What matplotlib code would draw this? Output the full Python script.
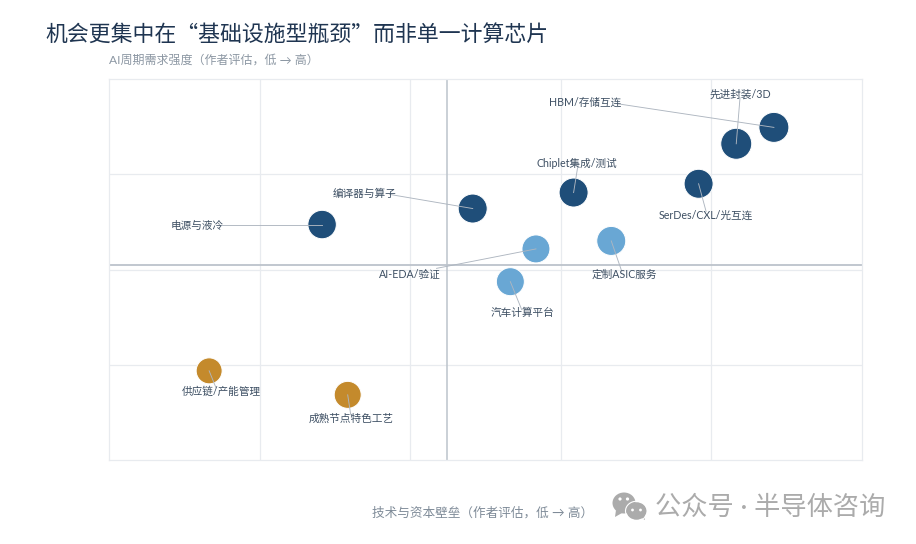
import matplotlib
matplotlib.use("Agg")
import matplotlib.pyplot as plt
from matplotlib.patches import Ellipse, Polygon

plt.rcParams['font.family'] = ['Lato', 'Noto Sans CJK SC', 'DejaVu Sans']

labels = ['电源与液冷', '编译器与算子', 'Chiplet集成/测试', 'SerDes/CXL/光互连', '先进封装/3D',
          'HBM/存储互连', 'AI-EDA/验证', '定制ASIC服务', '汽车计算平台', '供应链/产能管理', '成熟节点特色工艺']
x_vals = [28.3, 48.3, 61.7, 78.3, 83.3, 88.3, 56.7, 66.7, 53.3, 13.3, 31.7]
y_vals = [61.8, 66.0, 70.2, 72.5, 83.0, 87.3, 55.4, 57.5, 46.8, 23.4, 17.1]
sizes = [420, 436, 436, 436, 498, 466, 406, 436, 406, 350, 378]
groups = ['dark'] * 6 + ['light'] * 3 + ['gold'] * 2
label_x = [11.7, 33.9, 62.1, 79.2, 83.8, 63.2, 39.9, 68.4, 54.9, 14.9, 32.2]
label_y = [61.5, 70.0, 77.9, 64.2, 96.0, 94.0, 48.7, 48.7, 38.8, 18.0, 11.0]
leader_x = [14.95, 37.3, 62.3, 79.3, 83.8, 67.2, 43.5, 68.1, 54.8, 14.2, 32.1]
leader_y = [61.8, 69.7, 77.6, 65.2, 95.1, 93.6, 50.3, 49.5, 39.5, 19.0, 11.9]
palette = {'dark': '#1F4E79', 'light': '#69A7D4', 'gold': '#C48A2C'}
x_ticks = [20, 40, 60, 80]
y_ticks = [25, 50, 75]
x_mid = 44.85
y_mid = 51.2

W, H = 916, 544
fig = plt.figure(figsize=(W / 100, H / 100), dpi=100, facecolor='white')
ax = fig.add_axes([109 / W, 1 - 460 / H, 753 / W, 381 / H])
ax.set_xlim(0, 100)
ax.set_ylim(0, 100)
ax.set_xticks(x_ticks)
ax.set_yticks(y_ticks)
ax.tick_params(length=0, labelbottom=False, labelleft=False)
ax.grid(True, color='#E8EBEF', lw=0.9)
ax.set_axisbelow(True)
for s in ax.spines.values():
    s.set_color('#E8EBEF')
    s.set_linewidth(0.9)
ax.axvline(x_mid, color='#BCC3CB', lw=1.1, zorder=1.5)
ax.axhline(y_mid, color='#BCC3CB', lw=1.3, zorder=1.5)

ax.scatter(x_vals, y_vals, s=sizes, c=[palette[g] for g in groups],
           edgecolors='white', linewidths=0.7, zorder=3)
for i, name in enumerate(labels):
    ax.plot([x_vals[i], leader_x[i]], [y_vals[i], leader_y[i]], color='#AEB6C0', lw=0.65, zorder=4)
    ax.text(label_x[i], label_y[i], name, fontsize=7.65, color='#3D4F63',
            ha='center', va='center', zorder=5)

cjk = ['Noto Sans CJK SC', 'DejaVu Sans']
fig.text(45 / W, 1 - 35 / H, '机会更集中在“基础设施型瓶颈”而非单一计算芯片', fontsize=15.75,
         color='#1F3551', ha='left', va='center', fontweight='medium', family=cjk)
fig.text(109 / W, 1 - 60 / H, 'AI周期需求强度（作者评估，低 → 高）', fontsize=8.65,
         color='#8C97A3', ha='left', va='center')
fig.text(593 / W, 1 - 512 / H, '技术与资本壁垒（作者评估，低 → 高）', fontsize=9.1,
         color='#7F8B98', ha='right', va='center')
fig.text(655 / W, 1 - 507 / H, '公众号 · 半导体咨询', fontsize=18.9,
         color='#ABABAB', ha='left', va='center')

# watermark icon
ov = fig.add_axes([0, 0, 1, 1], facecolor='none')
ov.set_xlim(0, W)
ov.set_ylim(H, 0)
ov.axis('off')
gray = '#ABABAB'
ov.add_patch(Ellipse((624, 503), 23, 21, color=gray, lw=0))
ov.add_patch(Polygon([(616, 510), (615, 517), (622, 513)], color=gray, lw=0))
ov.add_patch(Ellipse((636.5, 511), 20, 17.5, color=gray, lw=0))
ov.add_patch(Polygon([(640, 517), (645, 520), (644, 514)], color=gray, lw=0))
ov.add_patch(Ellipse((636.5, 511), 22, 19.5, fill=False, ec='white', lw=0.8))
for cx, cy, r in [(620, 499, 1.6), (627.5, 499, 1.6), (632.5, 510, 1.4), (640.5, 510, 1.4)]:
    ov.add_patch(Ellipse((cx, cy), 2 * r, 2 * r, color='white', lw=0))

fig.savefig('out.png', dpi=100, facecolor='white')
